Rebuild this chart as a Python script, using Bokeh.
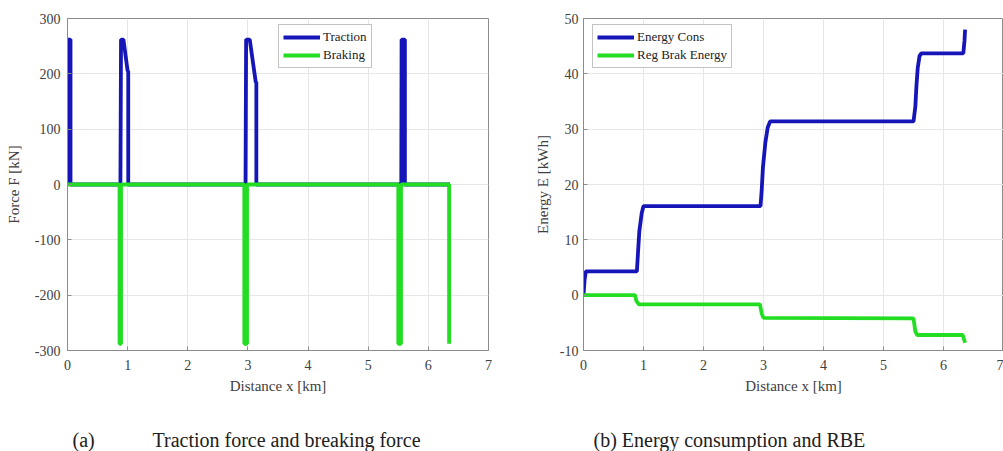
from bokeh.plotting import figure
from bokeh.models import Range1d, Legend, LegendItem, Label, FixedTicker, PrintfTickFormatter
from bokeh.layouts import row, column
from bokeh.embed import file_html
from bokeh.resources import INLINE

# ---------------- data ----------------
# (a) traction / braking force vs distance
trac_x = [0.0, 0.0, 0.05, 0.05, 0.88, 0.89, 0.93, 1.00, 1.01, 1.01,
          2.96, 2.97, 3.03, 3.13, 3.14, 3.14, 5.55, 5.555, 5.61, 5.61, 6.36]
trac_y = [0, 262, 262, 0, 0, 262, 262, 205, 205, 0,
          0, 262, 262, 185, 185, 0, 0, 262, 262, 0, 0]
brake_x = [0.0, 0.865, 0.865, 0.89, 0.89, 2.94, 2.94, 2.985, 2.985,
           5.50, 5.50, 5.545, 5.545, 6.345, 6.345]
brake_y = [0, 0, -288, -288, 0, 0, -288, -288, 0,
           0, -288, -288, 0, 0, -288]

# (b) energy consumption / regenerative braking energy vs distance
ec_x = [0.0, 0.02, 0.04, 0.89, 0.91, 0.93, 0.97, 1.00, 2.95, 2.97, 2.99,
        3.03, 3.07, 3.11, 5.50, 5.53, 5.55, 5.57, 5.60, 5.63, 6.33, 6.35, 6.36]
ec_y = [0.0, 3.0, 4.3, 4.3, 8.0, 11.5, 14.8, 16.1, 16.1, 19.0, 23.0,
        27.5, 30.3, 31.4, 31.4, 34.0, 38.0, 41.0, 43.2, 43.7, 43.7, 46.0, 48.0]
rbe_x = [0.0, 0.86, 0.88, 0.92, 2.94, 2.97, 3.00, 5.50, 5.53, 5.56, 6.32, 6.36]
rbe_y = [0.0, 0.0, -1.0, -1.65, -1.65, -3.3, -4.1, -4.2, -6.5, -7.2, -7.2, -8.6]

x_ticks = [0, 1, 2, 3, 4, 5, 6, 7]
f_ticks = [-300, -200, -100, 0, 100, 200, 300]
e_ticks = [-10, 0, 10, 20, 30, 40, 50]

BLUE = "#1515b8"
GREEN = "#22dd22"
SERIF = "Liberation Serif"
TXT = "#404040"
AX = "#8c8c8c"


def style(p, yticks):
    p.xaxis.ticker = FixedTicker(ticks=x_ticks)
    p.yaxis.ticker = FixedTicker(ticks=yticks)
    p.xaxis.formatter = PrintfTickFormatter(format="%d")
    p.yaxis.formatter = PrintfTickFormatter(format="%d")
    p.xgrid.ticker = FixedTicker(ticks=x_ticks)
    p.ygrid.ticker = FixedTicker(ticks=yticks)
    p.grid.grid_line_color = "#e6e6e6"
    p.grid.grid_line_width = 1
    for ax in p.axis:
        ax.major_label_text_font = SERIF
        ax.major_label_text_font_size = "14px"
        ax.major_label_text_color = TXT
        ax.axis_label_text_font = SERIF
        ax.axis_label_text_font_size = "15px"
        ax.axis_label_text_font_style = "normal"
        ax.axis_label_text_color = TXT
        ax.axis_line_color = AX
        ax.major_tick_line_color = AX
        ax.major_tick_in = 4
        ax.major_tick_out = 0
        ax.minor_tick_line_color = None
    p.xaxis.major_label_standoff = 9
    p.xaxis.axis_label_standoff = 5
    p.outline_line_color = AX


def legend(p, items, loc):
    lg = Legend(items=items, location=loc, orientation="vertical")
    lg.label_text_font = SERIF
    lg.label_text_font_size = "13px"
    lg.label_text_color = "#222222"
    lg.glyph_width = 37
    lg.glyph_height = 14
    lg.label_height = 14
    lg.label_standoff = 3
    lg.spacing = 2
    lg.padding = 4
    lg.margin = 0
    lg.border_line_color = "#888888"
    lg.background_fill_color = "white"
    lg.background_fill_alpha = 1
    p.add_layout(lg)


# ---------------- (a) ----------------
p1 = figure(width=500, height=413, output_backend="svg", toolbar_location=None,
            x_range=Range1d(0, 7), y_range=Range1d(-300, 300),
            min_border_left=67, min_border_right=12, min_border_top=18, min_border_bottom=63,
            x_axis_label="Distance x [km]", y_axis_label="Force F [kN]")
r1 = p1.line(trac_x, trac_y, line_color=BLUE, line_width=3.8)
r2 = p1.line(brake_x, brake_y, line_color=GREEN, line_width=3.8)
style(p1, f_ticks)
p1.yaxis[0].major_label_standoff = 7
p1.yaxis[0].axis_label_standoff = 10
legend(p1, [LegendItem(label="Traction", renderers=[r1]),
            LegendItem(label="Braking", renderers=[r2])], (211, 282))

# ---------------- (b) ----------------
p2 = figure(width=503, height=413, output_backend="svg", toolbar_location=None,
            x_range=Range1d(0, 7), y_range=Range1d(-10, 50),
            min_border_left=83, min_border_right=0, min_border_top=18, min_border_bottom=63,
            x_axis_label="Distance x [km]", y_axis_label="Energy E [kWh]")
r3 = p2.line(ec_x, ec_y, line_color=BLUE, line_width=3.8)
r4 = p2.line(rbe_x, rbe_y, line_color=GREEN, line_width=3.8)
style(p2, e_ticks)
p2.yaxis[0].major_label_standoff = 5
p2.yaxis[0].axis_label_standoff = 6
legend(p2, [LegendItem(label="Energy Cons", renderers=[r3]),
            LegendItem(label="Reg Brak Energy", renderers=[r4])], (9, 282))

# ---------------- captions ----------------
p3 = figure(width=1003, height=38, output_backend="svg", toolbar_location=None,
            x_range=Range1d(0, 1003), y_range=Range1d(0, 38),
            x_axis_type=None, y_axis_type=None,
            min_border=0, min_border_left=0, min_border_right=0,
            min_border_top=0, min_border_bottom=0)
p3.grid.visible = False
p3.outline_line_color = None
for txt, xx in [("(a)", 72), ("Traction force and breaking force", 152),
                ("(b) Energy consumption and RBE", 593)]:
    p3.add_layout(Label(x=xx, y=12, text=txt, text_font=SERIF, text_font_size="20px",
                        text_color="#202020", text_baseline="middle", text_align="left"))

layout = column(row(p1, p2), p3)
open("out.html", "w").write(file_html(layout, INLINE))
